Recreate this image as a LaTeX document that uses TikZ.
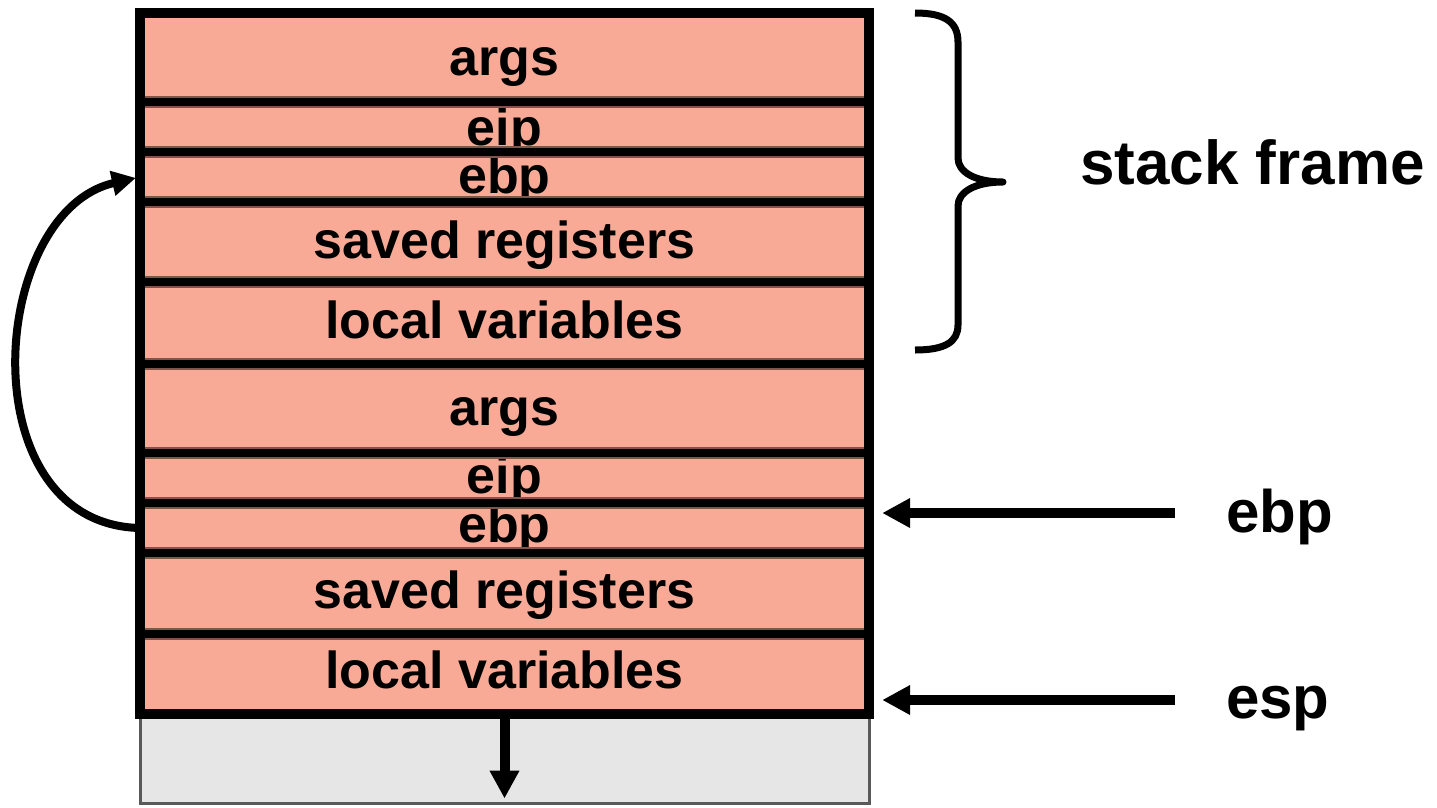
\documentclass[tikz,border=0pt]{standalone}
\usepackage{fontspec}
\setmainfont{Liberation Sans}
\usetikzlibrary{arrows.meta,calc}
\definecolor{pinkcell}{RGB}{248,170,150}
\definecolor{graycell}{RGB}{230,230,230}
\definecolor{seprim}{RGB}{130,85,75}
\begin{document}
\begin{tikzpicture}[x=1pt,y=-1pt,
  cellbox/.style={rectangle, fill=pinkcell, inner sep=0pt, minimum width=729pt,
    text depth=0pt, font=\fontsize{52}{60}\selectfont\bfseries},
  sephalo/.style={line width=12pt, seprim},
  sepline/.style={line width=8pt, black},
  outer/.style={line width=10pt, black},
  lbl/.style={inner sep=0pt, font=\fontsize{60}{70}\selectfont\bfseries},
  ptr/.style={line width=10pt, -{Triangle[length=28pt,width=28pt]}},
  curvy/.style={line width=8pt, -{Triangle[length=24pt,width=24pt]}},
  bracestyle/.style={line width=7pt, line join=round}]
\useasboundingbox (0,0) rectangle (1437,807);

% growth area
\node[rectangle, fill=graycell, draw=black!65, line width=3pt, inner sep=0pt,
  minimum width=729pt, minimum height=86pt] (g) at (504.5,760) {};

% cells
\node[cellbox, minimum height=89pt, text height=35pt] (c1) at (504.5,57.5) {args};
\node[cellbox, minimum height=50pt, text height=36pt] (c2) at (504.5,127) {eip};
\node[cellbox, minimum height=50pt, text height=32pt] (c3) at (504.5,177) {ebp};
\node[cellbox, minimum height=80pt, text height=32pt] (c4) at (504.5,242) {saved registers};
\node[cellbox, minimum height=82pt, text height=30pt] (c5) at (504.5,323) {local variables};
\node[cellbox, minimum height=89pt, text height=33pt] (c6) at (504.5,408.5) {args};
\node[cellbox, minimum height=50pt, text height=30pt] (c7) at (504.5,478) {eip};
\node[cellbox, minimum height=50pt, text height=28pt] (c8) at (504.5,528) {ebp};
\node[cellbox, minimum height=81pt, text height=29pt] (c9) at (504.5,593.5) {saved registers};
\node[cellbox, minimum height=80pt, text height=28pt] (c10) at (504.5,674) {local variables};

% separators
\foreach \c in {c1,c2,c3,c4,c5,c6,c7,c8,c9}{
  \draw[sephalo] (\c.south west) -- (\c.south east);
}
\foreach \c in {c1,c2,c3,c4,c5,c6,c7,c8,c9}{
  \draw[sepline] (\c.south west) -- (\c.south east);
}
\draw[outer] (c1.north west) rectangle (c10.south east);

% downward growth arrow
\draw[ptr] (c10.south) -- ($(g.south)+(0,-6)$);

% saved ebp link
\draw[curvy, shorten >=4pt] (c8.west) .. controls (-32,524) and (-12,212) .. (c3.west);

% brace
\draw[bracestyle] (915,13) .. controls (945,13) and (958,22) .. (958,42) -- (958,158)
  .. controls (958,172) and (975,182) .. (1003,182)
  .. controls (975,182) and (958,192) .. (958,206) -- (958,325)
  .. controls (958,342) and (945,350) .. (915,350);

% labels
\node[lbl, anchor=base west, font=\fontsize{62}{72}\selectfont\bfseries] (sf) at (1080,184) {stack frame};
\node[lbl, anchor=base west] (lebp) at (1226,532) {ebp};
\node[lbl, anchor=base west] (lesp) at (1226,718) {esp};

% pointers
\coordinate (tebp) at (1175,513);
\coordinate (tesp) at (1175,700);
\draw[ptr] (tebp) -- ($(tebp -| c8.east)+(13,0)$);
\draw[ptr] (tesp) -- ($(tesp -| c10.east)+(13,0)$);
\end{tikzpicture}
\end{document}
